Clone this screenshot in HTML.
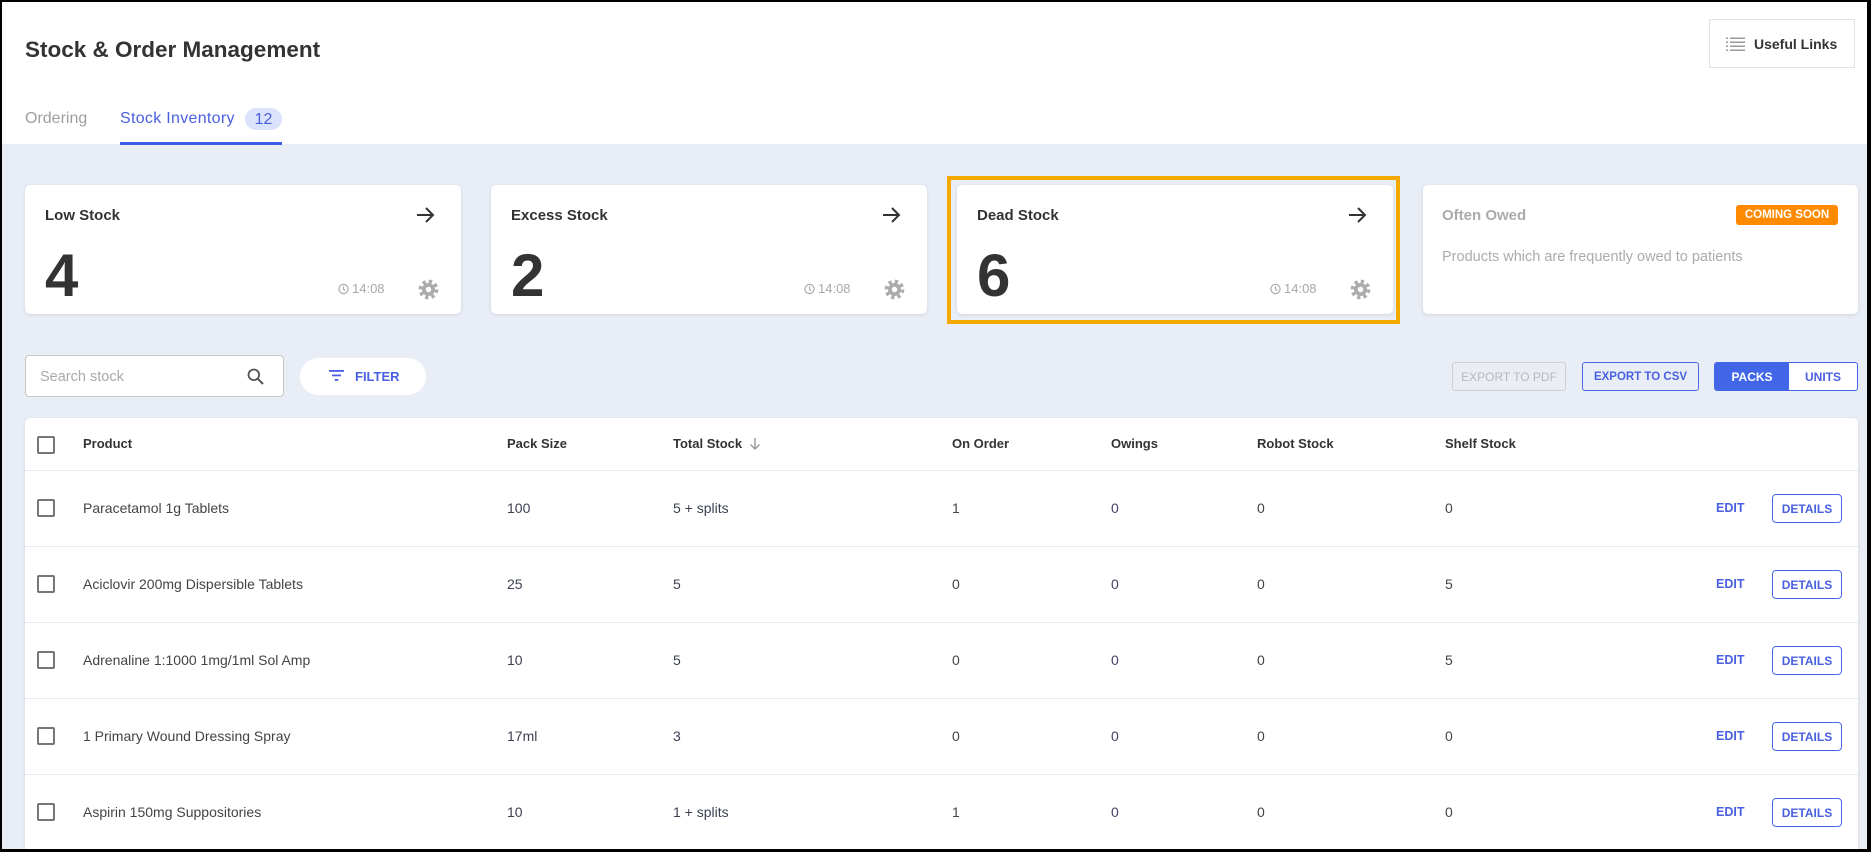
<!DOCTYPE html>
<html>
<head>
<meta charset="utf-8">
<style>
  html,body{margin:0;padding:0;width:1871px;height:852px;overflow:hidden;}
  body{background:#000;position:relative;
       font-family:"Liberation Sans",Arial,sans-serif;}
  .abs{position:absolute;}
  .t{position:absolute;white-space:nowrap;}
  .card{position:absolute;top:185px;height:129px;width:436px;background:#fff;border-radius:5px;
        box-shadow:0 1px 3px rgba(40,50,90,0.14);}
  .ctitle{position:absolute;left:20px;top:21px;height:20px;line-height:20px;font-size:15px;font-weight:bold;color:#333;}
  .cnum{position:absolute;left:20px;top:56px;height:70px;line-height:70px;font-size:60px;font-weight:bold;color:#333;}
  .ctime{position:absolute;left:313px;top:96px;height:16px;line-height:16px;font-size:13px;color:#a8a8a8;}
  .ctime svg{position:absolute;left:0;top:2px;}
  .ctime span{position:absolute;left:14px;top:0;}
  .carrow{position:absolute;left:391px;top:22px;}
  .cgear{position:absolute;left:393px;top:94px;}
  .hdr{position:absolute;top:434px;height:20px;line-height:20px;font-size:13px;font-weight:bold;color:#333;}
  .cell{position:absolute;height:20px;line-height:20px;font-size:14px;color:#444;white-space:nowrap;}
  .nv{color:#3c4152;}
  .pu{color:#483f62;}
  .cb{position:absolute;left:37px;width:14px;height:14px;border:2px solid #767676;border-radius:2px;background:#fff;}
  .line{position:absolute;left:25px;width:1833px;height:1px;background:#e6eaf3;}
  .edit{position:absolute;left:1716px;height:20px;line-height:20px;font-size:12.5px;font-weight:bold;color:#4a60e2;}
  .det{position:absolute;left:1772px;width:68px;height:27px;border:1px solid #4a68e6;border-radius:4px;
       font-size:12px;font-weight:bold;color:#4a60e2;text-align:center;line-height:29px;background:#fff;}
</style>
</head>
<body>
<!-- backgrounds -->
<div class="abs" style="left:2px;top:2px;width:1865px;height:142px;background:#fff;"></div>
<div class="abs" style="left:2px;top:144px;width:1865px;height:705px;background:#e9edf5;"></div>

<!-- title -->
<div class="t" style="left:25px;top:36px;height:28px;line-height:28px;font-size:22.5px;font-weight:bold;color:#333;">Stock &amp; Order Management</div>

<!-- useful links -->
<div class="abs" style="left:1709px;top:19px;width:144px;height:47px;border:1px solid #e2e2e2;background:#fff;"></div>
<svg class="abs" style="left:1726px;top:37px;" width="19" height="14" viewBox="0 0 19 14">
  <g fill="#9a9a9a">
    <rect x="0" y="0.5" width="2" height="1.5"/><rect x="4" y="0.5" width="15" height="1.5"/>
    <rect x="0" y="4.5" width="2" height="1.5"/><rect x="4" y="4.5" width="15" height="1.5"/>
    <rect x="0" y="8.5" width="2" height="1.5"/><rect x="4" y="8.5" width="15" height="1.5"/>
    <rect x="0" y="12.5" width="2" height="1.5"/><rect x="4" y="12.5" width="15" height="1.5"/>
  </g>
</svg>
<div class="t" style="left:1754px;top:34px;height:20px;line-height:20px;font-size:14px;font-weight:bold;color:#333;">Useful Links</div>

<!-- tabs -->
<div class="t" style="left:25px;top:109px;height:20px;line-height:20px;font-size:16px;color:#9e9e9e;">Ordering</div>
<div class="t" style="left:120px;top:109px;height:20px;line-height:20px;font-size:16px;color:#4a5fe0;letter-spacing:0.3px;">Stock Inventory</div>
<div class="abs" style="left:245px;top:108px;width:37px;height:22px;border-radius:11px;background:#dbe2fb;color:#4a5fe0;font-size:16px;line-height:23px;text-align:center;">12</div>
<div class="abs" style="left:120px;top:142px;width:162px;height:3px;background:#3d5ce8;"></div>

<!-- highlight box -->
<div class="abs" style="left:947px;top:176px;width:445px;height:140px;border:4px solid #f5a900;"></div>

<!-- cards -->
<div class="card" style="left:25px;">
  <div class="ctitle">Low Stock</div>
  <svg class="carrow" width="20" height="16" viewBox="0 0 20 16"><path d="M1 8H17M10 1L17 8L10 15" fill="none" stroke="#333" stroke-width="2"/></svg>
  <div class="cnum">4</div>
  <div class="ctime"><svg width="11" height="12" viewBox="0 0 11 12"><circle cx="5.5" cy="6" r="4.6" fill="none" stroke="#aaa" stroke-width="1.2"/><path d="M5.5 3.3V6.2L7.3 7.5" fill="none" stroke="#aaa" stroke-width="1.1"/></svg><span>14:08</span></div>
  <svg class="cgear" width="21" height="21" viewBox="0 0 20 20"><circle cx="10" cy="10" r="7.6" fill="none" stroke="#acacac" stroke-width="3.6" stroke-dasharray="3.1 2.87"/><circle cx="10" cy="10" r="6.2" fill="#acacac"/><circle cx="10" cy="10" r="2.6" fill="#fff"/></svg>
</div>
<div class="card" style="left:491px;">
  <div class="ctitle">Excess Stock</div>
  <svg class="carrow" width="20" height="16" viewBox="0 0 20 16"><path d="M1 8H17M10 1L17 8L10 15" fill="none" stroke="#333" stroke-width="2"/></svg>
  <div class="cnum">2</div>
  <div class="ctime"><svg width="11" height="12" viewBox="0 0 11 12"><circle cx="5.5" cy="6" r="4.6" fill="none" stroke="#aaa" stroke-width="1.2"/><path d="M5.5 3.3V6.2L7.3 7.5" fill="none" stroke="#aaa" stroke-width="1.1"/></svg><span>14:08</span></div>
  <svg class="cgear" width="21" height="21" viewBox="0 0 20 20"><circle cx="10" cy="10" r="7.6" fill="none" stroke="#acacac" stroke-width="3.6" stroke-dasharray="3.1 2.87"/><circle cx="10" cy="10" r="6.2" fill="#acacac"/><circle cx="10" cy="10" r="2.6" fill="#fff"/></svg>
</div>
<div class="card" style="left:957px;">
  <div class="ctitle">Dead Stock</div>
  <svg class="carrow" width="20" height="16" viewBox="0 0 20 16"><path d="M1 8H17M10 1L17 8L10 15" fill="none" stroke="#333" stroke-width="2"/></svg>
  <div class="cnum">6</div>
  <div class="ctime"><svg width="11" height="12" viewBox="0 0 11 12"><circle cx="5.5" cy="6" r="4.6" fill="none" stroke="#aaa" stroke-width="1.2"/><path d="M5.5 3.3V6.2L7.3 7.5" fill="none" stroke="#aaa" stroke-width="1.1"/></svg><span>14:08</span></div>
  <svg class="cgear" width="21" height="21" viewBox="0 0 20 20"><circle cx="10" cy="10" r="7.6" fill="none" stroke="#acacac" stroke-width="3.6" stroke-dasharray="3.1 2.87"/><circle cx="10" cy="10" r="6.2" fill="#acacac"/><circle cx="10" cy="10" r="2.6" fill="#fff"/></svg>
</div>
<div class="card" style="left:1423px;width:435px;">
  <div class="ctitle" style="left:19px;color:#ababab;">Often Owed</div>
  <div class="abs" style="left:313px;top:20px;width:102px;height:20px;background:#ff8a00;border-radius:3px;color:#fff;font-size:11.5px;font-weight:bold;line-height:20px;text-align:center;">COMING SOON</div>
  <div class="t" style="left:19px;top:62px;height:20px;line-height:20px;font-size:14.5px;color:#ababab;">Products which are frequently owed to patients</div>
</div>

<!-- toolbar -->
<div class="abs" style="left:25px;top:355px;width:257px;height:40px;border:1px solid #c6c6c6;border-radius:4px;background:#fff;"></div>
<div class="t" style="left:40px;top:367px;height:20px;line-height:20px;font-size:14.5px;color:#a9a9a9;">Search stock</div>
<svg class="abs" style="left:247px;top:368px;" width="17" height="17" viewBox="0 0 17 17"><circle cx="6.8" cy="6.8" r="5.3" fill="none" stroke="#555" stroke-width="1.8"/><path d="M10.7 10.7L16 16" stroke="#555" stroke-width="2"/></svg>

<div class="abs" style="left:300px;top:358px;width:126px;height:37px;border-radius:19px;background:#fff;"></div>
<svg class="abs" style="left:329px;top:370px;" width="15" height="11" viewBox="0 0 15 11"><g fill="#4a60e2"><rect x="0" y="0" width="15" height="1.8"/><rect x="3" y="4.5" width="9" height="1.8"/><rect x="5.7" y="9" width="3.6" height="1.8"/></g></svg>
<div class="t" style="left:355px;top:367px;height:20px;line-height:20px;font-size:13px;font-weight:bold;color:#4a60e2;">FILTER</div>

<div class="abs" style="left:1452px;top:362px;width:112px;height:27px;border:1px solid #cfcfcf;border-radius:3px;color:#b8b8b8;font-size:12px;line-height:29px;text-align:center;">EXPORT TO PDF</div>
<div class="abs" style="left:1582px;top:362px;width:115px;height:27px;border:1px solid #4a68e6;border-radius:3px;color:#4a60e2;font-size:11.5px;font-weight:bold;line-height:29px;text-align:center;">EXPORT TO CSV</div>
<div class="abs" style="left:1714px;top:362px;width:142px;height:27px;border:1px solid #4166e8;border-radius:3px;background:#fff;overflow:hidden;">
  <div class="abs" style="left:0;top:0;width:74px;height:27px;background:#4166e8;color:#fff;font-size:12px;font-weight:bold;line-height:28px;text-align:center;">PACKS</div>
  <div class="abs" style="left:74px;top:0;width:68px;height:27px;color:#4a60e2;font-size:12px;font-weight:bold;line-height:28px;text-align:center;">UNITS</div>
</div>

<!-- table -->
<div class="abs" style="left:25px;top:418px;width:1833px;height:431px;background:#fff;border-radius:5px 5px 0 0;box-shadow:0 1px 3px rgba(40,50,90,0.14);"></div>
<div class="cb" style="top:436px;"></div>
<div class="hdr" style="left:83px;">Product</div>
<div class="hdr" style="left:507px;">Pack Size</div>
<div class="hdr" style="left:673px;">Total Stock</div>
<svg class="abs" style="left:749px;top:437px;" width="12" height="14" viewBox="0 0 12 14"><path d="M6 1V12M1.5 7.5L6 12L10.5 7.5" fill="none" stroke="#9a9a9a" stroke-width="1.4"/></svg>
<div class="hdr" style="left:952px;">On Order</div>
<div class="hdr" style="left:1111px;">Owings</div>
<div class="hdr" style="left:1257px;">Robot Stock</div>
<div class="hdr" style="left:1445px;">Shelf Stock</div>
<div class="line" style="top:470px;"></div>

<!-- row 1 -->
<div class="cb" style="top:499px;"></div>
<div class="cell" style="left:83px;top:498px;">Paracetamol 1g Tablets</div>
<div class="cell nv" style="left:507px;top:498px;">100</div>
<div class="cell nv" style="left:673px;top:498px;">5 + splits</div>
<div class="cell" style="left:952px;top:498px;">1</div>
<div class="cell pu" style="left:1111px;top:498px;">0</div>
<div class="cell" style="left:1257px;top:498px;">0</div>
<div class="cell" style="left:1445px;top:498px;">0</div>
<div class="edit" style="top:498px;">EDIT</div>
<div class="det" style="top:494px;">DETAILS</div>
<div class="line" style="top:546px;"></div>

<!-- row 2 -->
<div class="cb" style="top:575px;"></div>
<div class="cell" style="left:83px;top:574px;">Aciclovir 200mg Dispersible Tablets</div>
<div class="cell nv" style="left:507px;top:574px;">25</div>
<div class="cell nv" style="left:673px;top:574px;">5</div>
<div class="cell" style="left:952px;top:574px;">0</div>
<div class="cell pu" style="left:1111px;top:574px;">0</div>
<div class="cell" style="left:1257px;top:574px;">0</div>
<div class="cell" style="left:1445px;top:574px;">5</div>
<div class="edit" style="top:574px;">EDIT</div>
<div class="det" style="top:570px;">DETAILS</div>
<div class="line" style="top:622px;"></div>

<!-- row 3 -->
<div class="cb" style="top:651px;"></div>
<div class="cell" style="left:83px;top:650px;">Adrenaline 1:1000 1mg/1ml Sol Amp</div>
<div class="cell nv" style="left:507px;top:650px;">10</div>
<div class="cell nv" style="left:673px;top:650px;">5</div>
<div class="cell" style="left:952px;top:650px;">0</div>
<div class="cell pu" style="left:1111px;top:650px;">0</div>
<div class="cell" style="left:1257px;top:650px;">0</div>
<div class="cell" style="left:1445px;top:650px;">5</div>
<div class="edit" style="top:650px;">EDIT</div>
<div class="det" style="top:646px;">DETAILS</div>
<div class="line" style="top:698px;"></div>

<!-- row 4 -->
<div class="cb" style="top:727px;"></div>
<div class="cell" style="left:83px;top:726px;">1 Primary Wound Dressing Spray</div>
<div class="cell nv" style="left:507px;top:726px;">17ml</div>
<div class="cell nv" style="left:673px;top:726px;">3</div>
<div class="cell" style="left:952px;top:726px;">0</div>
<div class="cell pu" style="left:1111px;top:726px;">0</div>
<div class="cell" style="left:1257px;top:726px;">0</div>
<div class="cell" style="left:1445px;top:726px;">0</div>
<div class="edit" style="top:726px;">EDIT</div>
<div class="det" style="top:722px;">DETAILS</div>
<div class="line" style="top:774px;"></div>

<!-- row 5 -->
<div class="cb" style="top:803px;"></div>
<div class="cell" style="left:83px;top:802px;">Aspirin 150mg Suppositories</div>
<div class="cell nv" style="left:507px;top:802px;">10</div>
<div class="cell nv" style="left:673px;top:802px;">1 + splits</div>
<div class="cell" style="left:952px;top:802px;">1</div>
<div class="cell pu" style="left:1111px;top:802px;">0</div>
<div class="cell" style="left:1257px;top:802px;">0</div>
<div class="cell" style="left:1445px;top:802px;">0</div>
<div class="edit" style="top:802px;">EDIT</div>
<div class="det" style="top:798px;">DETAILS</div>

<!-- frame borders on top -->
<div class="abs" style="left:0;top:0;width:1871px;height:2px;background:#000;"></div>
<div class="abs" style="left:0;top:849px;width:1871px;height:3px;background:#000;"></div>
<div class="abs" style="left:0;top:0;width:2px;height:852px;background:#000;"></div>
<div class="abs" style="left:1867px;top:0;width:4px;height:852px;background:#000;"></div>
</body>
</html>
